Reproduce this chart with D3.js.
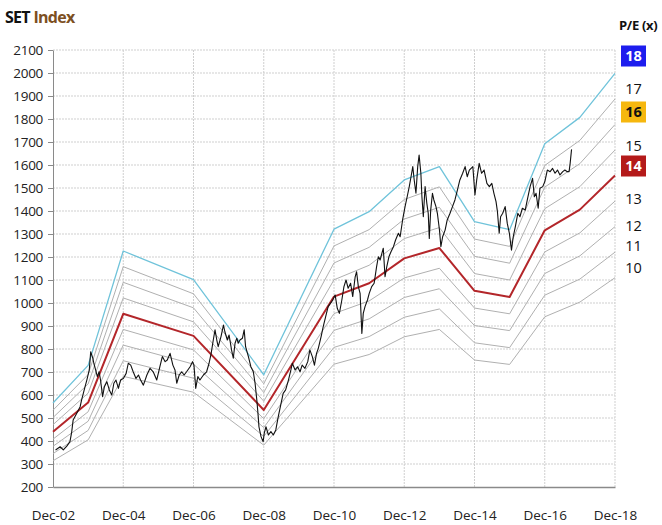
<!DOCTYPE html>
<html>
<head>
<meta charset="utf-8">
<script src="https://cdn.jsdelivr.net/npm/d3@7"></script>
<style>
  body { margin: 0; background: #fff; }
  svg { display: block; font-family: "Open Sans", sans-serif; }
</style>
</head>
<body>
<div id="chart"></div>
<script>
// ---- data ----
var xTickYears = [2002, 2004, 2006, 2008, 2010, 2012, 2014, 2016, 2018];
var yTicks = [200, 300, 400, 500, 600, 700, 800, 900, 1000, 1100, 1200, 1300,
              1400, 1500, 1600, 1700, 1800, 1900, 2000, 2100];

// band points, one per December (decimal years)
var bandDates = [2002.917, 2003.917, 2004.917, 2006.917, 2008.917, 2010.917, 2011.917,
                 2012.917, 2013.917, 2014.917, 2015.917, 2016.917, 2017.917, 2018.917];
var peLevels = [10, 11, 12, 13, 14, 15, 16, 17, 18];
// index level of each P/E band at each band date
var bandValues = [
  [314, 405, 681, 612, 382, 734, 776, 853, 885, 752, 733, 940, 1004, 1110],
  [345, 446, 749, 673, 420, 807, 854, 938, 974, 827, 806, 1034, 1104, 1221],
  [377, 486, 817, 734, 458, 881, 931, 1024, 1062, 902, 880, 1128, 1205, 1332],
  [408, 527, 885, 796, 497, 954, 1009, 1109, 1151, 978, 953, 1222, 1305, 1443],
  [440, 567, 953, 857, 535, 1028, 1086, 1194, 1239, 1053, 1026, 1316, 1406, 1554],
  [471, 608, 1022, 918, 573, 1101, 1164, 1280, 1328, 1128, 1100, 1410, 1506, 1665],
  [502, 648, 1090, 979, 611, 1174, 1242, 1365, 1416, 1203, 1173, 1504, 1606, 1776],
  [534, 689, 1158, 1040, 649, 1248, 1319, 1450, 1505, 1278, 1246, 1598, 1707, 1887],
  [565, 729, 1226, 1102, 688, 1321, 1397, 1535, 1593, 1354, 1319, 1692, 1807, 1998]
];

// SET index [decimal year, level]
var setIndex = [
  [2002.99, 361], [2003.12, 375], [2003.21, 361], [2003.31, 378], [2003.40, 397],
  [2003.45, 440], [2003.49, 491], [2003.59, 520], [2003.69, 549], [2003.73, 578],
  [2003.83, 636], [2003.88, 665], [2003.95, 709], [2003.99, 788], [2004.05, 760],
  [2004.08, 738], [2004.13, 709], [2004.18, 680], [2004.23, 701], [2004.27, 665],
  [2004.33, 593], [2004.38, 636], [2004.45, 658], [2004.52, 622], [2004.59, 600],
  [2004.65, 651], [2004.71, 665], [2004.78, 629], [2004.84, 665], [2004.92, 672],
  [2005.00, 694], [2005.06, 738], [2005.13, 730], [2005.20, 701], [2005.28, 672],
  [2005.35, 687], [2005.41, 665], [2005.49, 643], [2005.59, 687], [2005.68, 716],
  [2005.77, 701], [2005.87, 665], [2005.96, 723], [2006.03, 767], [2006.11, 745],
  [2006.17, 752], [2006.25, 781], [2006.33, 730], [2006.39, 709], [2006.44, 651],
  [2006.51, 687], [2006.58, 701], [2006.65, 687], [2006.72, 701], [2006.82, 723],
  [2006.89, 745], [2006.93, 730], [2006.98, 629], [2007.04, 680], [2007.10, 665],
  [2007.20, 687], [2007.29, 701], [2007.36, 738], [2007.42, 781], [2007.48, 839],
  [2007.53, 883], [2007.58, 839], [2007.62, 810], [2007.70, 854], [2007.77, 904],
  [2007.81, 875], [2007.88, 839], [2007.93, 861], [2008.00, 796], [2008.05, 760],
  [2008.10, 825], [2008.15, 847], [2008.19, 825], [2008.24, 839], [2008.31, 847],
  [2008.36, 883], [2008.40, 810], [2008.48, 767], [2008.55, 723], [2008.62, 701],
  [2008.67, 651], [2008.72, 578], [2008.76, 506], [2008.78, 462], [2008.84, 419],
  [2008.90, 397], [2008.93, 433], [2008.98, 462], [2009.05, 426], [2009.12, 441],
  [2009.19, 426], [2009.26, 448], [2009.33, 506], [2009.41, 564], [2009.47, 607],
  [2009.54, 622], [2009.62, 665], [2009.69, 709], [2009.73, 738], [2009.81, 709],
  [2009.88, 723], [2009.95, 701], [2010.01, 730], [2010.09, 716], [2010.17, 745],
  [2010.23, 796], [2010.30, 767], [2010.36, 730], [2010.42, 781], [2010.47, 803],
  [2010.55, 854], [2010.61, 897], [2010.68, 941], [2010.75, 984], [2010.85, 1006],
  [2010.88, 1013], [2010.95, 1035], [2011.01, 977], [2011.07, 955], [2011.14, 1013],
  [2011.20, 1071], [2011.26, 1100], [2011.32, 1064], [2011.39, 1086], [2011.45, 1028],
  [2011.52, 1114], [2011.56, 1136], [2011.61, 1071], [2011.66, 1042], [2011.71, 868],
  [2011.75, 955], [2011.80, 984], [2011.87, 1013], [2011.92, 1042], [2011.99, 1071],
  [2012.06, 1086], [2012.13, 1158], [2012.18, 1201], [2012.23, 1187], [2012.28, 1216],
  [2012.32, 1238], [2012.37, 1114], [2012.42, 1158], [2012.48, 1201], [2012.54, 1223],
  [2012.61, 1245], [2012.67, 1274], [2012.75, 1303], [2012.80, 1288], [2012.87, 1361],
  [2012.94, 1419], [2013.00, 1462], [2013.06, 1506], [2013.11, 1549], [2013.16, 1593],
  [2013.20, 1535], [2013.25, 1477], [2013.30, 1593], [2013.34, 1643], [2013.39, 1564],
  [2013.42, 1462], [2013.46, 1375], [2013.51, 1506], [2013.56, 1433], [2013.60, 1390],
  [2013.63, 1281], [2013.67, 1404], [2013.72, 1477], [2013.76, 1448], [2013.82, 1419],
  [2013.86, 1390], [2013.92, 1317], [2013.96, 1245], [2014.01, 1288], [2014.08, 1317],
  [2014.14, 1361], [2014.22, 1390], [2014.29, 1419], [2014.36, 1448], [2014.43, 1491],
  [2014.50, 1535], [2014.58, 1564], [2014.65, 1593], [2014.71, 1549], [2014.77, 1578],
  [2014.87, 1593], [2014.93, 1470], [2014.98, 1535], [2015.05, 1607], [2015.12, 1564],
  [2015.19, 1578], [2015.27, 1520], [2015.34, 1506], [2015.41, 1520], [2015.47, 1477],
  [2015.53, 1441], [2015.57, 1397], [2015.62, 1303], [2015.66, 1375], [2015.72, 1390],
  [2015.79, 1419], [2015.85, 1346], [2015.91, 1303], [2015.97, 1230], [2016.02, 1288],
  [2016.08, 1332], [2016.15, 1390], [2016.21, 1375], [2016.28, 1412], [2016.36, 1404],
  [2016.42, 1448], [2016.50, 1506], [2016.57, 1542], [2016.62, 1462], [2016.67, 1477],
  [2016.73, 1412], [2016.78, 1499], [2016.86, 1506], [2016.92, 1528], [2016.99, 1578],
  [2017.07, 1571], [2017.14, 1585], [2017.21, 1564], [2017.28, 1578], [2017.35, 1557],
  [2017.43, 1571], [2017.49, 1578], [2017.56, 1571], [2017.61, 1571], [2017.64, 1607],
  [2017.68, 1668]
];

// ---- layout ----
var W = 662, H = 525;
var padL = 53, padR = 615, padT = 50, padB = 487;
// label column on the right (pixel centres)
var labelY = [268, 246, 226, 199, 166, 146, 112, 89, 56];
var labelBox = { 18: "#1d1dee", 16: "#f6b70e", 14: "#b41a1a" };
var labelText = { 18: "#fff", 16: "#111", 14: "#fff" };

var x = d3.scaleLinear()
    .domain([2002.917, 2018.917])
    .range([padL, padR]);

var y = d3.scaleLinear()
    .domain([200, 2100])
    .range([padB, padT]);

var svg = d3.select('#chart')
    .append('svg')
    .attr('width', W)
    .attr('height', H);

// gridlines
svg.append('g')
    .selectAll('line')
    .data(yTicks.slice(1))
    .enter().append('line')
    .attr('x1', padL).attr('x2', padR)
    .attr('y1', d => y(d)).attr('y2', d => y(d))
    .attr('stroke', '#cfcfcf')
    .attr('stroke-dasharray', '2,1');

svg.append('g')
    .selectAll('line')
    .data(xTickYears.slice(1))
    .enter().append('line')
    .attr('x1', d => x(d + 0.917)).attr('x2', d => x(d + 0.917))
    .attr('y1', padT).attr('y2', padB)
    .attr('stroke', '#cfcfcf')
    .attr('stroke-dasharray', '2,1');

// axes
var yAxis = d3.axisLeft(y)
    .tickValues(yTicks)
    .tickFormat(d3.format('d'))
    .tickSize(5)
    .tickSizeOuter(0)
    .tickPadding(5);

var gy = svg.append('g')
    .attr('transform', 'translate(' + padL + ',0)')
    .call(yAxis);
gy.select('.domain').attr('stroke', '#8a8a8a');
gy.selectAll('.tick line').attr('stroke', '#8a8a8a');
gy.selectAll('.tick text')
    .attr('fill', '#222')
    .style('font-size', '13.5px')
    .style('letter-spacing', '-0.3px')
    .style('font-family', '"Open Sans", sans-serif');

var xAxis = d3.axisBottom(x)
    .tickValues(xTickYears.map(d => d + 0.917))
    .tickFormat(d => 'Dec-' + String(Math.round(d - 0.917) % 100).padStart(2, '0'))
    .tickSize(0)
    .tickSizeOuter(0)
    .tickPadding(23);

var gx = svg.append('g')
    .attr('transform', 'translate(0,' + padB + ')')
    .call(xAxis);
gx.select('.domain').attr('stroke', '#8a8a8a').attr('stroke-width', 1.5);
gx.selectAll('.tick text')
    .attr('fill', '#222')
    .style('font-size', '13.5px')
    .style('font-family', '"Open Sans", sans-serif');

// P/E bands
var bandLine = d3.line()
    .x((d, i) => x(bandDates[i]))
    .y(d => y(d));

var bandOrder = peLevels.map((pe, i) => i)
    .sort((a, b) => (peLevels[a] == 14 || peLevels[a] == 18) - (peLevels[b] == 14 || peLevels[b] == 18));

svg.append('g')
    .selectAll('path')
    .data(bandOrder)
    .enter().append('path')
    .attr('fill', 'none')
    .attr('stroke', i => peLevels[i] == 18 ? '#6fc3da' : peLevels[i] == 14 ? '#b3262a' : '#b0b0b0')
    .attr('stroke-width', i => peLevels[i] == 14 ? 2 : peLevels[i] == 18 ? 1.3 : 1)
    .attr('stroke-linejoin', 'round')
    .attr('d', i => bandLine(bandValues[i]));

// SET index
var line = d3.line()
    .x(d => x(d[0]))
    .y(d => y(d[1]));

svg.append('path')
    .datum(setIndex)
    .attr('fill', 'none')
    .attr('stroke', '#111')
    .attr('stroke-width', 1.1)
    .attr('stroke-linejoin', 'round')
    .attr('d', line);

// title
var title = svg.append('text')
    .attr('x', 5)
    .attr('y', 23)
    .style('font-size', '16px')
    .style('font-weight', 'bold')
    .style('letter-spacing', '-0.7px');
title.append('tspan').attr('fill', '#111').text('SET ');
title.append('tspan').attr('fill', '#7d4f22').text('Index');

// right labels
svg.append('text')
    .attr('x', 619)
    .attr('y', 30)
    .attr('fill', '#111')
    .style('font-size', '13px')
    .style('font-weight', 'bold')
    .style('letter-spacing', '-0.3px')
    .text('P/E (x)');

var lab = svg.append('g')
    .selectAll('g')
    .data(peLevels)
    .enter().append('g')
    .attr('transform', (d, i) => 'translate(633.5,' + labelY[i] + ')');

lab.filter(d => labelBox[d])
    .append('rect')
    .attr('x', -12.5).attr('y', -10.5)
    .attr('width', 25).attr('height', 21)
    .attr('fill', d => labelBox[d]);

lab.append('text')
    .attr('text-anchor', 'middle')
    .attr('dy', '0.36em')
    .attr('fill', d => labelText[d] || '#111')
    .style('font-size', '14.5px')
    .style('font-weight', d => labelBox[d] ? 'bold' : 'normal')
    .text(d => d);
</script>
</body>
</html>
